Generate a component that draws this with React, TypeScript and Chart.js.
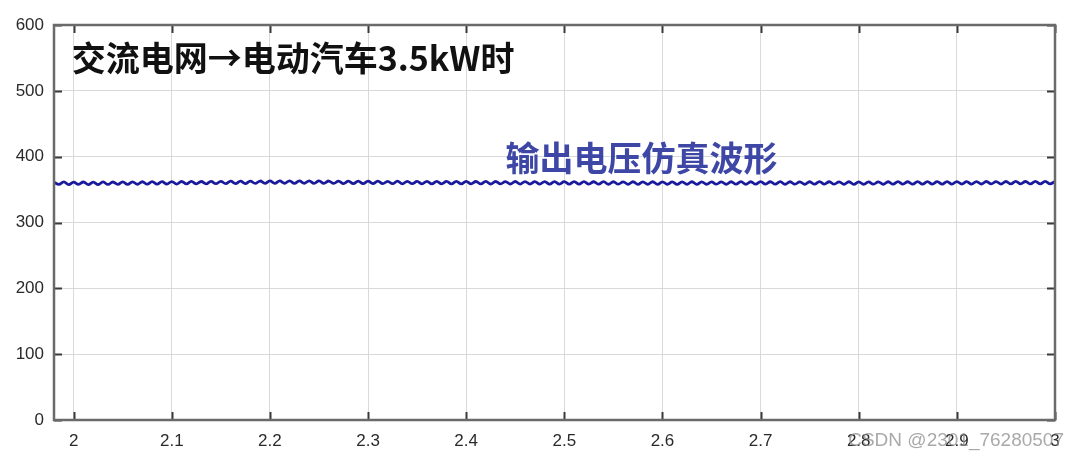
import React, { useEffect, useRef } from "react";
import { Chart, registerables } from "chart.js";

Chart.register(...registerables);

const timeSec: number[] = [
  1.98, 1.985, 1.99, 1.995, 2.0, 2.005, 2.01, 2.015, 2.02, 2.025, 2.03, 2.035, 2.04, 2.045, 2.05, 2.055, 2.06, 2.065, 2.07, 2.075,
  2.08, 2.085, 2.09, 2.095, 2.1, 2.105, 2.11, 2.115, 2.12, 2.125, 2.13, 2.135, 2.14, 2.145, 2.15, 2.155, 2.16, 2.165, 2.17, 2.175,
  2.18, 2.185, 2.19, 2.195, 2.2, 2.205, 2.21, 2.215, 2.22, 2.225, 2.23, 2.235, 2.24, 2.245, 2.25, 2.255, 2.26, 2.265, 2.27, 2.275,
  2.28, 2.285, 2.29, 2.295, 2.3, 2.305, 2.31, 2.315, 2.32, 2.325, 2.33, 2.335, 2.34, 2.345, 2.35, 2.355, 2.36, 2.365, 2.37, 2.375,
  2.38, 2.385, 2.39, 2.395, 2.4, 2.405, 2.41, 2.415, 2.42, 2.425, 2.43, 2.435, 2.44, 2.445, 2.45, 2.455, 2.46, 2.465, 2.47, 2.475,
  2.48, 2.485, 2.49, 2.495, 2.5, 2.505, 2.51, 2.515, 2.52, 2.525, 2.53, 2.535, 2.54, 2.545, 2.55, 2.555, 2.56, 2.565, 2.57, 2.575,
  2.58, 2.585, 2.59, 2.595, 2.6, 2.605, 2.61, 2.615, 2.62, 2.625, 2.63, 2.635, 2.64, 2.645, 2.65, 2.655, 2.66, 2.665, 2.67, 2.675,
  2.68, 2.685, 2.69, 2.695, 2.7, 2.705, 2.71, 2.715, 2.72, 2.725, 2.73, 2.735, 2.74, 2.745, 2.75, 2.755, 2.76, 2.765, 2.77, 2.775,
  2.78, 2.785, 2.79, 2.795, 2.8, 2.805, 2.81, 2.815, 2.82, 2.825, 2.83, 2.835, 2.84, 2.845, 2.85, 2.855, 2.86, 2.865, 2.87, 2.875,
  2.88, 2.885, 2.89, 2.895, 2.9, 2.905, 2.91, 2.915, 2.92, 2.925, 2.93, 2.935, 2.94, 2.945, 2.95, 2.955, 2.96, 2.965, 2.97, 2.975,
  2.98, 2.985, 2.99, 2.995, 3.0,
];

const outputVoltage: number[] = [
  361.3, 357.8, 361.6, 357.5, 361.2, 357.9, 361.5, 357.6, 361.4, 357.7, 361.6, 357.8, 361.5, 357.9, 361.7, 358.0, 361.8, 358.1, 361.9, 358.2,
  362.0, 358.3, 362.1, 358.5, 362.2, 358.4, 362.3, 358.6, 362.4, 358.7, 362.3, 358.8, 362.5, 358.9, 362.6, 359.0, 362.7, 359.1, 362.8, 359.2,
  362.9, 359.3, 363.0, 359.4, 363.1, 359.5, 363.2, 359.6, 363.3, 359.5, 363.2, 359.6, 363.3, 359.5, 363.1, 359.4, 363.0, 359.3, 362.9, 359.2,
  362.8, 359.1, 362.9, 359.0, 362.7, 359.1, 362.8, 359.0, 362.6, 358.9, 362.7, 358.8, 362.6, 358.9, 362.5, 358.8, 362.6, 358.7, 362.5, 358.8,
  362.4, 358.7, 362.5, 358.6, 362.4, 358.7, 362.3, 358.6, 362.4, 358.5, 362.3, 358.6, 362.2, 358.5, 362.3, 358.4, 362.2, 358.5, 362.1, 358.4,
  362.2, 358.3, 362.1, 358.4, 362.0, 358.3, 362.1, 358.2, 362.0, 358.3, 361.9, 358.2, 362.0, 358.1, 361.9, 358.2, 361.8, 358.1, 361.9, 358.0,
  361.8, 358.1, 361.9, 358.0, 361.8, 358.1, 361.7, 358.0, 361.8, 358.1, 361.9, 358.0, 361.8, 358.1, 361.7, 358.2, 361.8, 358.1, 361.9, 358.2,
  362.0, 358.1, 361.9, 358.2, 362.0, 358.3, 361.9, 358.2, 362.0, 358.1, 361.9, 358.2, 361.8, 358.1, 361.9, 358.2, 362.0, 358.3, 361.9, 358.2,
  361.8, 358.1, 361.9, 358.0, 361.8, 358.1, 361.7, 358.2, 361.8, 358.1, 361.9, 358.2, 362.0, 358.3, 361.9, 358.2, 362.0, 358.3, 362.1, 358.4,
  362.0, 358.3, 362.1, 358.4, 362.2, 358.5, 362.1, 358.4, 362.2, 358.5, 362.3, 358.6, 362.2, 358.5, 362.3, 358.6, 362.4, 358.7, 362.3, 358.6,
  362.4, 358.7, 362.5, 358.8, 362.4,
];

const titleText = "交流电网→电动汽车3.5kW时";
const seriesLabelText = "输出电压仿真波形";
const watermarkText = "CSDN @2301_76280507";

const X_MIN = 1.98;
const X_MAX = 3.0;
const Y_MIN = 0;
const Y_MAX = 600;

const matlabFrame = {
  id: "matlabFrame",
  afterDatasetsDraw(chart: any) {
    const { ctx, chartArea: a, scales } = chart;
    ctx.save();
    // inward ticks
    ctx.strokeStyle = "#3a3a3a";
    ctx.lineWidth = 2;
    const tl = 8;
    scales.x.ticks.forEach((t: any) => {
      const px = Math.round(scales.x.getPixelForValue(t.value)) + 0.5;
      ctx.beginPath();
      ctx.moveTo(px, a.bottom);
      ctx.lineTo(px, a.bottom - tl);
      ctx.moveTo(px, a.top);
      ctx.lineTo(px, a.top + tl);
      ctx.stroke();
    });
    scales.y.ticks.forEach((t: any) => {
      const py = Math.round(scales.y.getPixelForValue(t.value)) + 0.5;
      ctx.beginPath();
      ctx.moveTo(a.left, py);
      ctx.lineTo(a.left + tl, py);
      ctx.moveTo(a.right, py);
      ctx.lineTo(a.right - tl, py);
      ctx.stroke();
    });
    // frame
    ctx.strokeStyle = "#6a6a6a";
    ctx.lineWidth = 2.5;
    ctx.strokeRect(a.left, a.top, a.right - a.left, a.bottom - a.top);

    // text annotations
    const x = scales.x;
    const y = scales.y;
    ctx.textAlign = "left";
    ctx.textBaseline = "middle";
    ctx.fillStyle = "#111111";
    ctx.font = "bold 34px 'Noto Sans CJK SC', sans-serif";
    ctx.fillText(titleText, x.getPixelForValue(1.998), y.getPixelForValue(549));
    ctx.fillStyle = "#3e47a6";
    ctx.font = "bold 34px 'Noto Sans CJK SC', sans-serif";
    ctx.fillText(seriesLabelText, x.getPixelForValue(2.44), y.getPixelForValue(398));

    // watermark
    ctx.textAlign = "right";
    ctx.textBaseline = "middle";
    ctx.font = "19px 'Liberation Sans', Arial, sans-serif";
    ctx.fillStyle = "rgba(140,140,140,0.75)";
    ctx.fillText(watermarkText, chart.width - 16, 441);
    ctx.restore();
  },
};

export default function App() {
  const canvasRef = useRef<HTMLCanvasElement | null>(null);

  useEffect(() => {
    if (!canvasRef.current) return;
    const points = timeSec.map((t, i) => ({ x: t, y: outputVoltage[i] }));
    const chart = new Chart(canvasRef.current, {
      type: "line",
      data: {
        datasets: [
          {
            data: points,
            borderColor: "#1a1a9c",
            borderWidth: 2.8,
            pointRadius: 0,
            tension: 0.4,
            fill: false,
          },
        ],
      },
      options: {
        animation: false,
        responsive: true,
        maintainAspectRatio: false,
        layout: { padding: { top: 25, right: 25, left: 0, bottom: 0 } },
        plugins: {
          legend: { display: false },
          tooltip: { enabled: false },
          title: { display: false },
        },
        scales: {
          x: {
            type: "linear",
            min: X_MIN,
            max: X_MAX,
            afterFit: (s: any) => {
              s.height = 42;
            },
            ticks: {
              stepSize: 0.1,
              includeBounds: false,
              padding: 11,
              color: "#2a2a2a",
              font: { family: "'Liberation Sans', Arial, sans-serif", size: 17 },
              callback: (v: any) => String(+Number(v).toFixed(2)),
              maxRotation: 0,
              autoSkip: false,
            },
            grid: { color: "#d9d9d9", lineWidth: 1, drawTicks: false },
            border: { display: true, color: "#6a6a6a", width: 2 },
          },
          y: {
            min: Y_MIN,
            max: Y_MAX,
            afterFit: (s: any) => {
              s.width = 54;
            },
            ticks: {
              stepSize: 100,
              padding: 10,
              color: "#2a2a2a",
              font: { family: "'Liberation Sans', Arial, sans-serif", size: 17 },
            },
            grid: { color: "#d9d9d9", lineWidth: 1, drawTicks: false },
            border: { display: true, color: "#6a6a6a", width: 2 },
          },
        },
      },
      plugins: [matlabFrame],
    });
    return () => chart.destroy();
  }, []);

  return (
    <div style={{ position: "absolute", left: 0, top: 0, width: 1080, height: 462, background: "#fff" }}>
      <canvas ref={canvasRef} />
    </div>
  );
}
